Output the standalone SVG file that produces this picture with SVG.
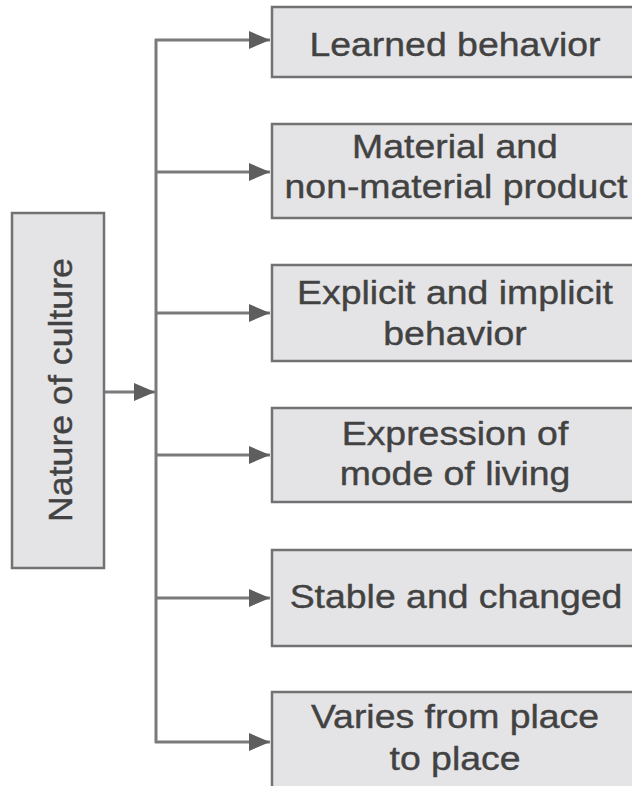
<svg xmlns="http://www.w3.org/2000/svg" width="632" height="786" viewBox="0 0 632 786">
  <style>
    .box { fill: #e4e4e6; stroke: #727272; stroke-width: 2.5; }
    .lbl { font-family: "Liberation Sans", Arial, sans-serif; font-size: 34px; fill: #424242; stroke: #424242; stroke-width: 0.4; text-anchor: middle; }
    .wire { fill: none; stroke: #7a7a7a; stroke-width: 3; }
  </style>
  <defs>
    <marker id="head" markerUnits="userSpaceOnUse" markerWidth="22" markerHeight="20" refX="21" refY="10" orient="auto">
      <path d="M0,1 L21,10 L0,19 z" fill="#5e5e5e"/>
    </marker>
  </defs>
  <rect width="632" height="786" fill="#ffffff"/>

  <g id="connectors">
    <line class="wire" x1="104" y1="392" x2="155" y2="392" marker-end="url(#head)"/>
    <line class="wire" x1="156" y1="39" x2="156" y2="743"/>
    <line class="wire" x1="155" y1="40" x2="270" y2="40" marker-end="url(#head)"/>
    <line class="wire" x1="155" y1="172" x2="270" y2="172" marker-end="url(#head)"/>
    <line class="wire" x1="155" y1="313" x2="270" y2="313" marker-end="url(#head)"/>
    <line class="wire" x1="155" y1="455" x2="270" y2="455" marker-end="url(#head)"/>
    <line class="wire" x1="155" y1="598" x2="270" y2="598" marker-end="url(#head)"/>
    <line class="wire" x1="155" y1="742" x2="270" y2="742" marker-end="url(#head)"/>
  </g>

  <g id="nature">
    <rect class="box" x="12" y="213" width="92" height="355"/>
    <text class="lbl" transform="translate(72,390) rotate(-90) scale(1.05,1)" font-size="36">Nature of culture</text>
  </g>

  <g id="learned">
    <rect class="box" x="272" y="7" width="380" height="70"/>
    <text class="lbl" transform="translate(455,56) scale(1.1,1)">Learned behavior</text>
  </g>

  <g id="material">
    <rect class="box" x="272" y="124" width="380" height="94"/>
    <text class="lbl" transform="translate(455,158) scale(1.1,1)">Material and</text>
    <text class="lbl" transform="translate(456,198) scale(1.1,1)">non-material product</text>
  </g>

  <g id="explicit">
    <rect class="box" x="272" y="265" width="380" height="96"/>
    <text class="lbl" transform="translate(455,304) scale(1.1,1)">Explicit and implicit</text>
    <text class="lbl" transform="translate(455,345) scale(1.1,1)">behavior</text>
  </g>

  <g id="expression">
    <rect class="box" x="272" y="408" width="380" height="94"/>
    <text class="lbl" transform="translate(455,445) scale(1.1,1)">Expression of</text>
    <text class="lbl" transform="translate(455,485) scale(1.1,1)">mode of living</text>
  </g>

  <g id="stable">
    <rect class="box" x="272" y="550" width="380" height="96"/>
    <text class="lbl" transform="translate(456,608) scale(1.1,1)">Stable and changed</text>
  </g>

  <g id="varies">
    <rect class="box" x="272" y="692" width="380" height="110"/>
    <text class="lbl" transform="translate(455,728) scale(1.1,1)">Varies from place</text>
    <text class="lbl" transform="translate(455,770) scale(1.1,1)">to place</text>
  </g>
</svg>
